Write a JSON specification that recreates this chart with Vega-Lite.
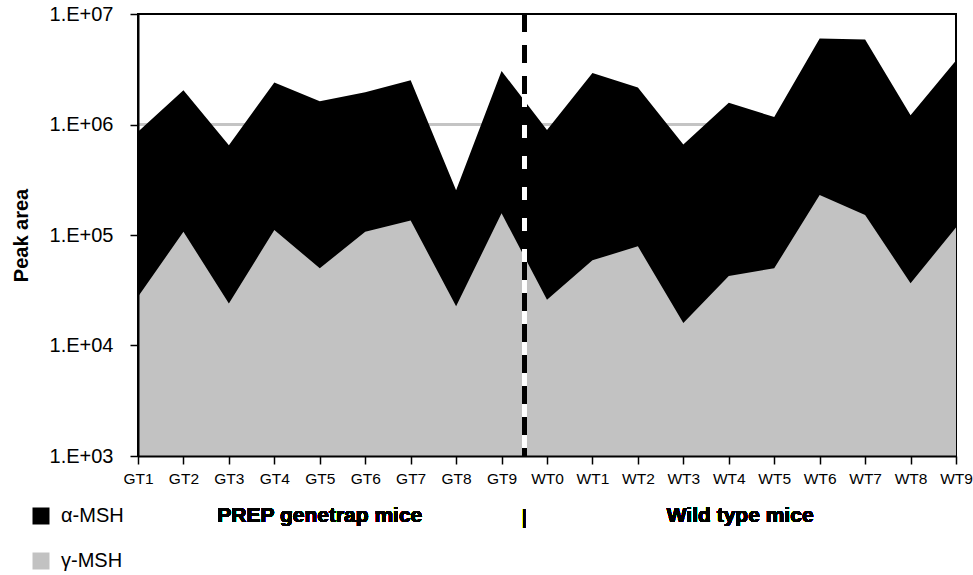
{
  "$schema": "https://vega.github.io/schema/vega-lite/v6.json",
  "width": 818,
  "height": 442,
  "autosize": {"type": "none"},
  "padding": {"left": 138, "top": 14, "right": 17, "bottom": 119},
  "config": {
    "font": "Liberation Sans",
    "view": {"stroke": "#000000", "strokeWidth": 2},
    "axis": {"labelColor": "#000000", "titleColor": "#000000", "labelFont": "Liberation Sans", "titleFont": "Liberation Sans"}
  },
  "data": {
    "values": [
      {"mouse": "GT1", "peptide": "α-MSH", "peak": 860000},
      {"mouse": "GT2", "peptide": "α-MSH", "peak": 2040000},
      {"mouse": "GT3", "peptide": "α-MSH", "peak": 650000},
      {"mouse": "GT4", "peptide": "α-MSH", "peak": 2400000},
      {"mouse": "GT5", "peptide": "α-MSH", "peak": 1620000},
      {"mouse": "GT6", "peptide": "α-MSH", "peak": 1960000},
      {"mouse": "GT7", "peptide": "α-MSH", "peak": 2520000},
      {"mouse": "GT8", "peptide": "α-MSH", "peak": 254000},
      {"mouse": "GT9", "peptide": "α-MSH", "peak": 3050000},
      {"mouse": "WT0", "peptide": "α-MSH", "peak": 890000},
      {"mouse": "WT1", "peptide": "α-MSH", "peak": 2930000},
      {"mouse": "WT2", "peptide": "α-MSH", "peak": 2160000},
      {"mouse": "WT3", "peptide": "α-MSH", "peak": 660000},
      {"mouse": "WT4", "peptide": "α-MSH", "peak": 1570000},
      {"mouse": "WT5", "peptide": "α-MSH", "peak": 1170000},
      {"mouse": "WT6", "peptide": "α-MSH", "peak": 6000000},
      {"mouse": "WT7", "peptide": "α-MSH", "peak": 5870000},
      {"mouse": "WT8", "peptide": "α-MSH", "peak": 1210000},
      {"mouse": "WT9", "peptide": "α-MSH", "peak": 3800000},
      {"mouse": "GT1", "peptide": "γ-MSH", "peak": 27600},
      {"mouse": "GT2", "peptide": "γ-MSH", "peak": 107000},
      {"mouse": "GT3", "peptide": "γ-MSH", "peak": 24000},
      {"mouse": "GT4", "peptide": "γ-MSH", "peak": 111000},
      {"mouse": "GT5", "peptide": "γ-MSH", "peak": 50000},
      {"mouse": "GT6", "peptide": "γ-MSH", "peak": 107000},
      {"mouse": "GT7", "peptide": "γ-MSH", "peak": 135000},
      {"mouse": "GT8", "peptide": "γ-MSH", "peak": 22700},
      {"mouse": "GT9", "peptide": "γ-MSH", "peak": 157000},
      {"mouse": "WT0", "peptide": "γ-MSH", "peak": 26000},
      {"mouse": "WT1", "peptide": "γ-MSH", "peak": 59000},
      {"mouse": "WT2", "peptide": "γ-MSH", "peak": 79000},
      {"mouse": "WT3", "peptide": "γ-MSH", "peak": 16000},
      {"mouse": "WT4", "peptide": "γ-MSH", "peak": 42600},
      {"mouse": "WT5", "peptide": "γ-MSH", "peak": 50000},
      {"mouse": "WT6", "peptide": "γ-MSH", "peak": 230000},
      {"mouse": "WT7", "peptide": "γ-MSH", "peak": 152000},
      {"mouse": "WT8", "peptide": "γ-MSH", "peak": 36600},
      {"mouse": "WT9", "peptide": "γ-MSH", "peak": 117000}
    ]
  },
  "layer": [
    {
      "mark": {"type": "rule", "color": "#c4c4c4", "strokeWidth": 1.5},
      "encoding": {"y": {"datum": 1000000, "type": "quantitative"}}
    },
    {
      "mark": {"type": "area", "opacity": 1, "interpolate": "linear"},
      "encoding": {
        "x": {
          "field": "mouse",
          "type": "ordinal",
          "sort": null,
          "scale": {"type": "point", "padding": 0, "domain": ["GT1","GT2","GT3","GT4","GT5","GT6","GT7","GT8","GT9","WT0","WT1","WT2","WT3","WT4","WT5","WT6","WT7","WT8","WT9"]},
          "axis": {
            "title": null,
            "labelAngle": 0,
            "labelFontSize": 15.5,
            "labelPadding": 7,
            "tickSize": 8,
            "tickColor": "#000000",
            "tickWidth": 1.5,
            "domainColor": "#000000",
            "domainWidth": 2,
            "grid": false,
            "zindex": 1
          }
        },
        "y": {
          "field": "peak",
          "type": "quantitative",
          "stack": null,
          "scale": {"type": "log", "domain": [1000, 10000000], "nice": false},
          "axis": {
            "title": "Peak area",
            "titleFontSize": 20,
            "titleFontWeight": "bold",
            "titleAngle": 270,
            "titleBaseline": "alphabetic",
            "titleAlign": "center",
            "titleX": -111,
            "titleY": 221,
            "values": [1000, 10000, 100000, 1000000, 10000000],
            "labelExpr": "'1.E+0' + round(log(datum.value) / LN10)",
            "labelFontSize": 20,
            "labelPadding": 17,
            "tickSize": 8,
            "tickColor": "#000000",
            "tickWidth": 1.5,
            "domainColor": "#000000",
            "domainWidth": 2,
            "grid": false,
            "zindex": 1
          }
        },
        "y2": {"datum": 1000},
        "color": {
          "field": "peptide",
          "type": "nominal",
          "scale": {"domain": ["α-MSH", "γ-MSH"], "range": ["#000000", "#c2c2c2"]},
          "legend": {
            "title": null,
            "orient": "none",
            "legendX": -107,
            "legendY": 492,
            "direction": "vertical",
            "symbolType": "square",
            "symbolSize": 289,
            "symbolStrokeWidth": 0,
            "symbolOpacity": 1,
            "labelFontSize": 20,
            "labelColor": "#000000",
            "labelOffset": 10,
            "rowPadding": 25,
            "padding": 0
          }
        }
      }
    },
    {
      "mark": {"type": "rule", "color": "#ffffff", "strokeWidth": 4, "xOffset": {"expr": "width/36"}},
      "encoding": {"x": {"datum": "GT9", "type": "ordinal"}}
    },
    {
      "mark": {"type": "rule", "color": "#000000", "strokeWidth": 4, "strokeDash": [18, 13], "xOffset": {"expr": "width/36"}},
      "encoding": {"x": {"datum": "GT9", "type": "ordinal"}}
    },
    {
      "mark": {"type": "text", "fontSize": 21, "fontWeight": "bold", "baseline": "alphabetic", "align": "center", "dy": 66, "fill": "#000000", "stroke": null},
      "encoding": {"x": {"datum": "GT5", "type": "ordinal"}, "y": {"datum": 1000, "type": "quantitative"}, "text": {"value": "PREP genetrap mice"}}
    },
    {
      "mark": {"type": "text", "fontSize": 21, "baseline": "alphabetic", "align": "center", "dy": 68, "fill": "#000000", "stroke": null, "xOffset": {"expr": "width/36"}},
      "encoding": {"x": {"datum": "GT9", "type": "ordinal"}, "y": {"datum": 1000, "type": "quantitative"}, "text": {"value": "|"}}
    },
    {
      "mark": {"type": "text", "fontSize": 21, "fontWeight": "bold", "baseline": "alphabetic", "align": "center", "dy": 66, "fill": "#000000", "stroke": null, "xOffset": {"expr": "width/72"}},
      "encoding": {"x": {"datum": "WT4", "type": "ordinal"}, "y": {"datum": 1000, "type": "quantitative"}, "text": {"value": "Wild type mice"}}
    }
  ]
}
